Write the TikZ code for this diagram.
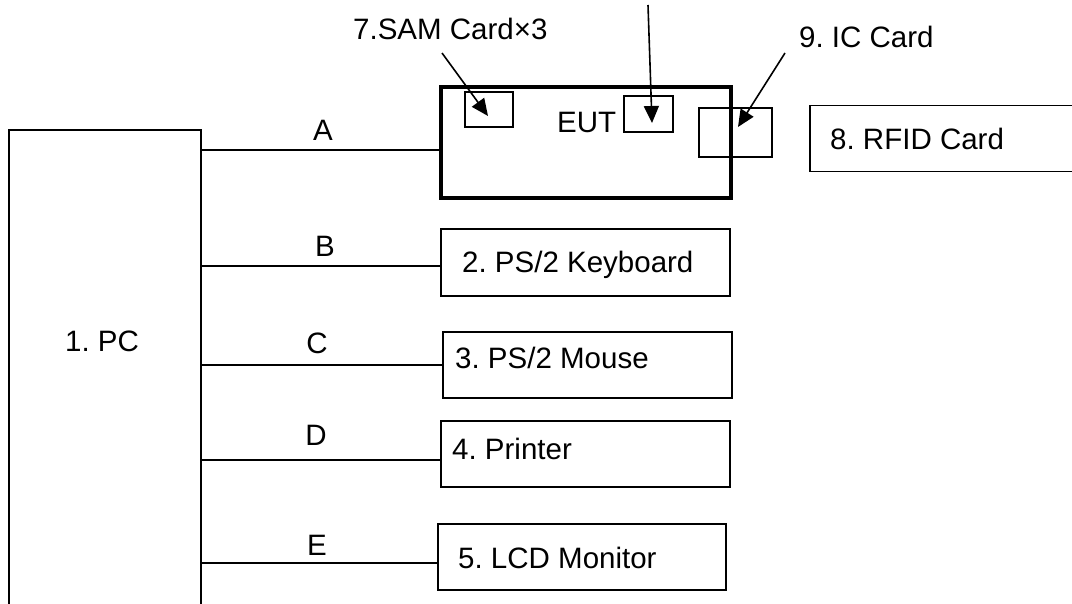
\documentclass[tikz,border=0pt]{standalone}
\usepackage{fontspec}
\setmainfont{Liberation Sans}
\frenchspacing
\usetikzlibrary{arrows.meta}
\tikzset{
  box/.style={draw, line width=1.4pt, inner sep=0pt, outer sep=0pt},
  lbl/.style={inner sep=0pt, anchor=base west, font=\fontsize{29.5}{34}\selectfont},
  clbl/.style={inner sep=0pt, anchor=base, font=\fontsize{29.5}{34}\selectfont},
  wire/.style={line width=1.3pt},
  pointer/.style={line width=1.6pt, -{Triangle[length=17pt,width=15pt]}},
}
\begin{document}
\begin{tikzpicture}[x=1pt,y=-1pt]
\clip (0,0) rectangle (1072,604);
\fill[white] (0,0) rectangle (1072,604);
% PC
\node[box, minimum width=192pt, minimum height=570pt] (pc) at (105,415) {};
\node[lbl] (pct) at (65,352) {1. PC};
% EUT
\node[draw, line width=3.3pt, inner sep=0pt, outer sep=0pt, minimum width=290pt, minimum height=111pt] (eut) at (586,142.5) {};
\node[lbl] (eutt) at (557,133) {EUT};
\node[box, minimum width=48pt, minimum height=35pt] (sam) at (489,109.5) {};
\node[box, minimum width=49pt, minimum height=36pt] (slot) at (648.5,114) {};
\node[box, minimum width=73pt, minimum height=49pt] (ic) at (735.5,132.5) {};
% RFID
\node[box, minimum width=300pt, minimum height=66pt] (rfid) at (960,138.5) {};
\node[lbl] (rfidt) at (830,150) {8. RFID Card};
% peripherals
\node[box, minimum width=289pt, minimum height=67pt] (kb) at (585.5,262.5) {};
\node[lbl] (kbt) at (462,273) {2. PS/2 Keyboard};
\node[box, minimum width=289pt, minimum height=66pt] (ms) at (587.5,365) {};
\node[lbl] (mst) at (455,369) {3. PS/2 Mouse};
\node[box, minimum width=289pt, minimum height=66pt] (pr) at (585.5,454) {};
\node[lbl] (prt) at (452,459) {4. Printer};
\node[box, minimum width=288pt, minimum height=66pt] (lcd) at (582,557) {};
\node[lbl] (lcdt) at (458,568) {5. LCD Monitor};
% wires
\draw[wire] (pc.east |- 0,150) -- (eut.west |- 0,150);
\draw[wire] (pc.east |- 0,266) -- (kb.west |- 0,266);
\draw[wire] (pc.east |- 0,365) -- (ms.west |- 0,365);
\draw[wire] (pc.east |- 0,460) -- (pr.west |- 0,460);
\draw[wire] (pc.east |- 0,563) -- (lcd.west |- 0,563);
\node[clbl] (la) at (323,141) {A};
\node[clbl] (lb) at (325,256.5) {B};
\node[clbl] (lc) at (317,353) {C};
\node[clbl] (ld) at (316,445) {D};
\node[clbl] (le) at (317,555) {E};
% card labels and pointers
\node[lbl] (samt) at (353,40) {7.SAM Card×3};
\node[lbl] (ict) at (799,48) {9. IC Card};
\coordinate (s0) at (442,53);
\coordinate (s1) at (488,116);
\coordinate (m0) at (648,5);
\coordinate (m1) at (652,123);
\coordinate (i0) at (785,53);
\coordinate (i1) at (738,127);
\draw[pointer] (s0) -- (s1);
\draw[pointer] (m0) -- (m1);
\draw[pointer] (i0) -- (i1);
\end{tikzpicture}
\end{document}
